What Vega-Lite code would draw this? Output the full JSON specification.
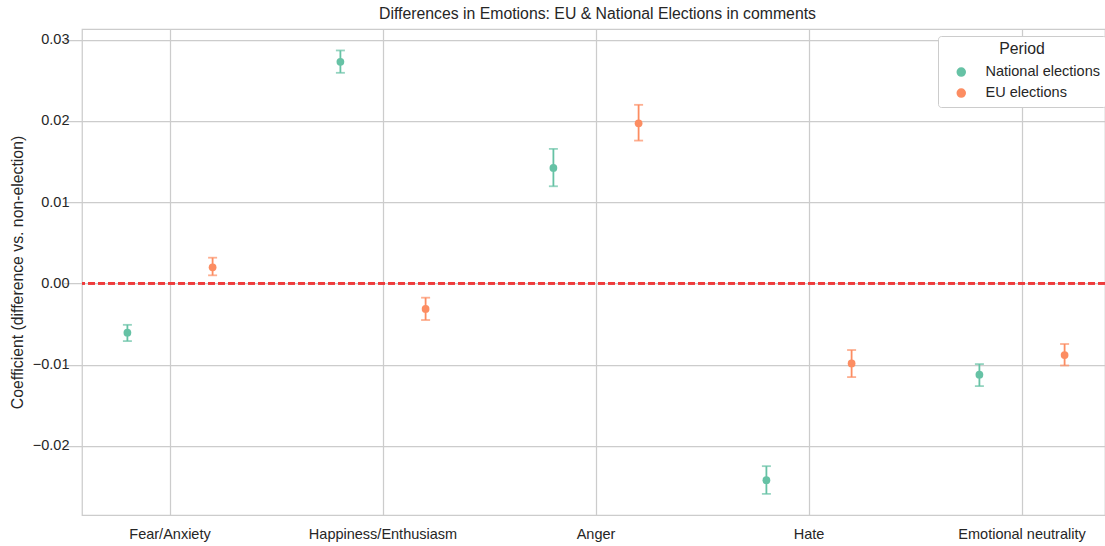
{
  "$schema": "https://vega.github.io/schema/vega-lite/v6.json",
  "autosize": {"type": "none"},
  "padding": {"left": 82, "top": 29, "right": 0, "bottom": 31},
  "width": 1023,
  "height": 486,
  "background": "white",
  "config": {
    "font": "Liberation Sans",
    "view": {"stroke": "#cccccc", "strokeWidth": 1.25},
    "axis": {
      "labelFont": "Liberation Sans",
      "titleFont": "Liberation Sans",
      "labelFontSize": 14.5,
      "labelColor": "#262626",
      "titleColor": "#262626",
      "titleFontSize": 15.8,
      "titleFontWeight": "normal",
      "gridColor": "#cccccc",
      "gridWidth": 1.25,
      "gridOpacity": 1,
      "domain": false,
      "ticks": false
    }
  },
  "title": {
    "text": "Differences in Emotions: EU & National Elections in comments",
    "fontSize": 15.8,
    "fontWeight": "normal",
    "color": "#262626",
    "font": "Liberation Sans",
    "anchor": "middle",
    "dx": 4,
    "offset": 6
  },
  "data": {
    "values": [
      {"emotion": "Fear/Anxiety", "period": "National elections", "coef": -0.00607, "lo": -0.0071, "hi": -0.0051},
      {"emotion": "Fear/Anxiety", "period": "EU elections", "coef": 0.00197, "lo": 0.00099, "hi": 0.00316},
      {"emotion": "Happiness/Enthusiasm", "period": "National elections", "coef": 0.02727, "lo": 0.02591, "hi": 0.02866},
      {"emotion": "Happiness/Enthusiasm", "period": "EU elections", "coef": -0.00315, "lo": -0.00451, "hi": -0.00176},
      {"emotion": "Anger", "period": "National elections", "coef": 0.01421, "lo": 0.01195, "hi": 0.01655},
      {"emotion": "Anger", "period": "EU elections", "coef": 0.0197, "lo": 0.01757, "hi": 0.02197},
      {"emotion": "Hate", "period": "National elections", "coef": -0.02421, "lo": -0.0259, "hi": -0.02249},
      {"emotion": "Hate", "period": "EU elections", "coef": -0.00985, "lo": -0.01153, "hi": -0.0082},
      {"emotion": "Emotional neutrality", "period": "National elections", "coef": -0.01124, "lo": -0.01264, "hi": -0.00993},
      {"emotion": "Emotional neutrality", "period": "EU elections", "coef": -0.00882, "lo": -0.0101, "hi": -0.00746}
    ]
  },
  "encoding": {
    "x": {
      "field": "emotion",
      "type": "nominal",
      "sort": ["Fear/Anxiety", "Happiness/Enthusiasm", "Anger", "Hate", "Emotional neutrality"],
      "scale": {"type": "band", "range": [-18.5, 1046.5], "paddingInner": 0, "paddingOuter": 0},
      "axis": {"title": null, "labelAngle": 0, "bandPosition": 0.5, "grid": true, "labelPadding": 12}
    },
    "xOffset": {
      "field": "period",
      "type": "nominal",
      "sort": ["National elections", "EU elections"],
      "scale": {"paddingInner": 0, "paddingOuter": 0.25}
    },
    "color": {
      "field": "period",
      "type": "nominal",
      "scale": {"domain": ["National elections", "EU elections"], "range": ["#66c2a5", "#fc8d62"]},
      "legend": {
        "title": "Period",
        "orient": "none",
        "legendX": 856,
        "legendY": 7,
        "fillColor": "white",
        "strokeColor": "#cccccc",
        "cornerRadius": 3,
        "padding": 6,
        "titleFontSize": 15.8,
        "titleFontWeight": "normal",
        "titleColor": "#262626",
        "titleFont": "Liberation Sans",
        "titleAnchor": "middle",
        "titlePadding": 7,
        "labelFontSize": 14.5,
        "labelColor": "#262626",
        "labelFont": "Liberation Sans",
        "symbolType": "circle",
        "symbolSize": 64,
        "symbolOpacity": 1,
        "symbolOffset": 10,
        "labelOffset": 17,
        "rowPadding": 5
      }
    }
  },
  "layer": [
    {
      "mark": {"type": "rule", "strokeWidth": 1.8},
      "encoding": {
        "y": {
          "field": "lo",
          "type": "quantitative",
          "scale": {"domain": [-0.0285, 0.0313], "nice": false, "zero": false},
          "axis": {
            "title": "Coefficient (difference vs. non-election)",
            "values": [-0.02, -0.01, 0, 0.01, 0.02, 0.03],
            "labelExpr": "replace(format(datum.value, '.2f'), '-', '\u2212')",
            "grid": true,
            "labelPadding": 13,
            "titlePadding": 7
          }
        },
        "y2": {"field": "hi"}
      }
    },
    {
      "mark": {"type": "tick", "size": 9, "thickness": 1.8, "orient": "horizontal"},
      "encoding": {"y": {"field": "lo", "type": "quantitative"}}
    },
    {
      "mark": {"type": "tick", "size": 9, "thickness": 1.8, "orient": "horizontal"},
      "encoding": {"y": {"field": "hi", "type": "quantitative"}}
    },
    {
      "mark": {"type": "point", "filled": true, "opacity": 1, "size": 60},
      "encoding": {"y": {"field": "coef", "type": "quantitative"}}
    },
    {
      "mark": {"type": "rule", "color": "#f03c3c", "opacity": 0.85, "strokeWidth": 1.6, "strokeDash": [7, 3]},
      "encoding": {"y": {"datum": 0}, "x": null, "xOffset": null, "color": null}
    }
  ]
}
